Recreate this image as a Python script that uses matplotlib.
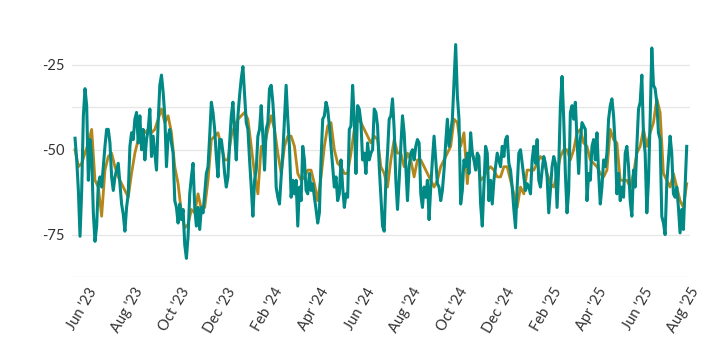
import matplotlib
matplotlib.use("Agg")
import matplotlib.pyplot as plt
import pandas as pd

start_date = "2023-05-16"
end_date = "2025-07-28"

teal_vals = [
    # May-Sep 2023
    -46.6, -53, -62, -75.5, -62, -40, -32, -37, -59, -47, -52, -68.6, -77, -72.5, -60, -58, -61, -55,
    -49, -44, -44, -48, -58, -62, -58, -56, -54, -60, -66, -69, -74, -67, -63, -49, -45, -47,
    -41, -39, -48, -40, -50, -44, -53, -47, -44, -38, -52, -46, -51, -56, -42, -31, -28, -33,
    # Sep 2023 - Jan 2024
    -40, -55, -46, -44, -48, -51, -65, -67, -71.6, -66, -70.6, -67.6, -78, -82, -75.5, -63, -58, -54,
    -67, -72.5, -67, -73.5, -67, -68.6, -63, -57, -55, -46, -36, -39, -44, -52, -58, -47, -47, -51,
    -57, -61, -58, -48, -40, -36, -45, -53, -40, -34, -29, -25.5, -34, -42, -44, -53, -61, -69.6,
    -59, -56, -46, -44, -37, -46, -56, -44, -42,
    # Jan - Jun 2024
    -32, -31, -36, -44, -61, -64, -66, -58, -51, -41, -31, -41, -49, -64, -59, -63, -59, -72.5,
    -61, -65, -49, -53, -62, -63, -57, -62, -60, -64, -67.6, -71.6, -68.6, -53, -41, -40, -36, -38,
    -43, -49, -55, -61, -58, -65, -63, -53, -61, -67, -63, -64, -44, -43, -31, -41, -57, -37,
    -38, -42, -53, -51, -57, -48, -53, -51, -50,
    # Jun - Nov 2024
    -38, -39, -43, -55, -64, -72.5, -74, -59, -51, -41, -40, -35, -44, -59, -67.6, -59, -49, -40,
    -45, -55, -65, -55, -51, -50, -53, -49, -47, -48, -63, -67, -61, -64, -59, -70.6, -61, -53,
    -46, -53, -60, -61, -65, -62, -56, -48, -41, -49, -45, -41, -30, -19, -34, -41, -66, -62,
    -53, -55, -51, -57, -45, -51, -53, -56, -51,
    # Nov 2024 - Mar 2025
    -52, -66, -72.5, -61, -49, -51, -65, -59, -66, -59, -55, -51, -53, -55, -49, -52, -47, -46,
    -54, -56, -61, -67.6, -73, -61, -51, -50, -54, -58, -62, -60, -61, -63, -53, -49, -54, -47,
    -59, -61, -56, -52, -54, -58, -68.6, -62, -55, -52, -54, -67, -55, -37, -28.4, -41, -57, -68.6,
    -62, -39, -37, -41, -36, -47, -57, -47, -42,
    # Mar - Jul 2025
    -43, -44, -65, -57, -59, -49, -47, -53, -45, -57, -66, -61, -53, -55, -51, -41, -37, -35,
    -40, -49, -63, -57, -65, -61, -64, -51, -49, -55, -65, -69.6, -56, -61, -49, -38, -36, -28,
    -46, -51, -68.6, -59, -41, -20, -31, -32, -36, -45, -47, -69.6, -71.6, -75, -60, -53, -46, -51,
    -63, -64, -61, -67, -74.5, -67.6, -73.5, -61, -49,
]

gold_vals = [
    -50, -55, -54, -51, -48, -44, -59, -61, -69.6, -56, -52, -51, -55, -58, -60, -62, -64, -57,
    -51, -47, -45, -45, -44, -45, -44, -41, -38,
    -42, -40, -45, -55, -60, -68.6, -73, -72, -67.6, -68.6, -63, -67.6, -67, -59, -47, -46,
    -45, -49, -53, -53, -46, -43, -41, -40, -39, -41, -49, -57, -63, -49, -49, -44,
    -40, -44, -51, -57, -49, -46, -46, -49, -57, -59, -58, -56, -56, -60, -65, -58,
    -49, -43, -42, -50, -54, -55, -57, -57, -51, -44, -41, -42, -44, -46, -48,
    -46, -47, -55, -57, -61, -53, -47, -51, -51, -55, -51, -53, -58, -53, -53, -55,
    -57, -59, -61, -59, -55, -53, -51, -49, -41, -42, -49, -45, -60, -49, -53, -53,
    -59, -58, -56, -55, -56, -58, -58, -55, -55, -59, -63, -67, -61, -63, -56, -56,
    -56, -54, -52, -53, -57, -60, -61, -57, -52, -50, -50, -53, -50, -45, -44,
    -48, -49, -53, -54, -55, -57, -58, -56, -44, -47, -48, -59, -59, -59, -61, -57,
    -51, -49, -44, -49, -45, -42, -35, -39, -57, -59, -61, -57, -61, -65, -67, -60,
]

tick_labels = ["Jun '23", "Aug '23", "Oct '23", "Dec '23", "Feb '24", "Apr '24", "Jun '24",
               "Aug '24", "Oct '24", "Dec '24", "Feb '25", "Apr '25", "Jun '25", "Aug '25"]
tick_dates = pd.date_range("2023-06-01", "2025-08-01", freq="2MS")

y_labelled = [-25, -50, -75]
y_grid = [-25, -37.5, -50, -75, -87.5]

teal_dates = pd.date_range(start_date, end_date, periods=len(teal_vals))
gold_dates = teal_dates[::2]

plt.rcParams['font.family'] = ['Lato', 'DejaVu Sans']

fig = plt.figure(figsize=(7.2, 3.6), dpi=100)
ax = fig.add_axes([0.1, 0.2306, 0.858, 0.7069])

for g in y_grid:
    ax.axhline(g, color="#e6e6e6", lw=0.9, zorder=0)

ax.plot(gold_dates, gold_vals, color="#B5861A", lw=2.0, solid_joinstyle="round", zorder=2)
ax.plot(teal_dates, teal_vals, color="#008985", lw=2.2, solid_joinstyle="round", zorder=3)

ax.set_ylim(-87.5, -12.5)
ax.set_xlim(teal_dates[0] - pd.Timedelta(days=4), teal_dates[-1] + pd.Timedelta(days=2))

ax.set_yticks(y_labelled)
ax.set_yticklabels([str(v) for v in y_labelled], fontsize=10.5)
ax.set_xticks(tick_dates)
ax.set_xticklabels(tick_labels, rotation=60, ha="right", rotation_mode="anchor", fontsize=10.5)
ax.tick_params(axis="both", length=0, labelcolor="#333333", colors="#333333")
ax.tick_params(axis="y", pad=5)
ax.tick_params(axis="x", pad=6)

for s in ax.spines.values():
    s.set_visible(False)

fig.savefig("out.png", dpi=100)
